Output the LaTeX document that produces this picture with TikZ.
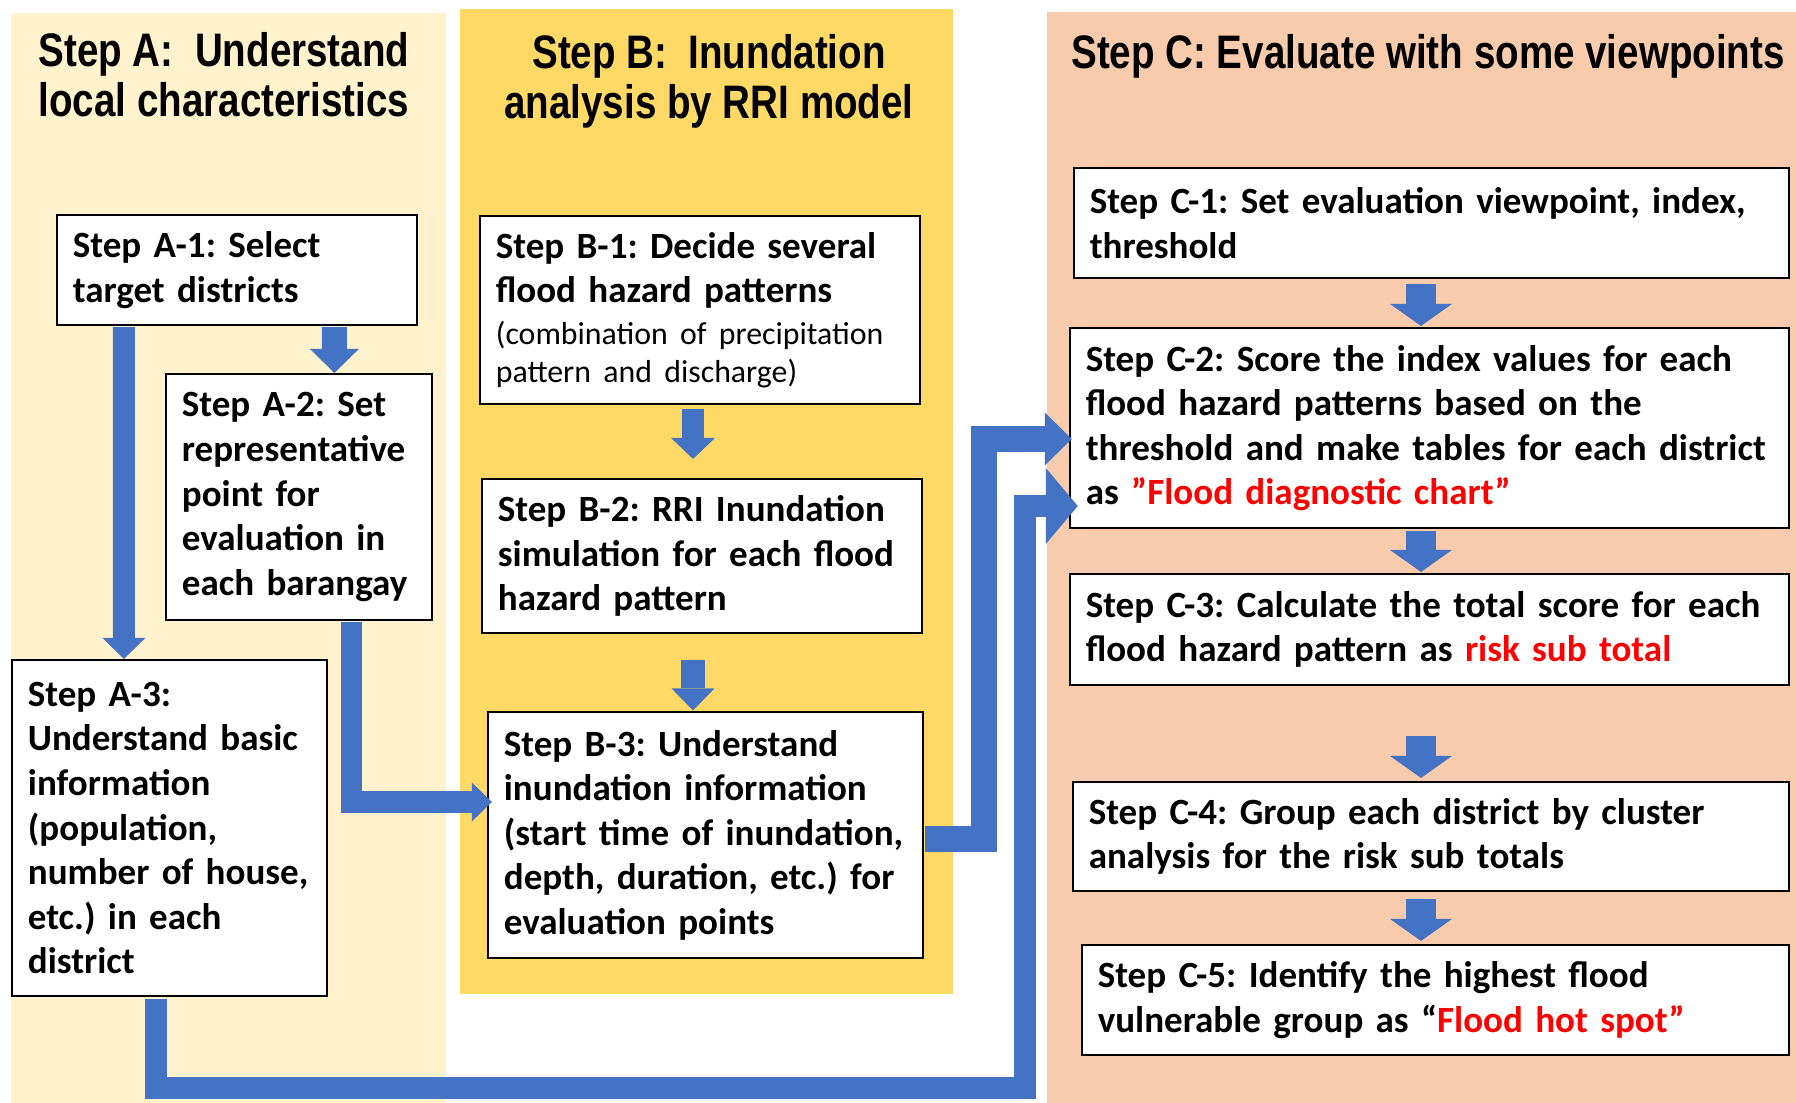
\documentclass[tikz,border=0pt]{standalone}
\usepackage{fontspec}
\setmainfont{Carlito}
\newfontfamily\headfont[FakeStretch=0.82]{Liberation Sans}
\usetikzlibrary{arrows.meta,calc}

\definecolor{paneA}{HTML}{FFF2CC}
\definecolor{paneB}{HTML}{FFD966}
\definecolor{paneC}{HTML}{F8CBAD}
\definecolor{arrblue}{HTML}{4472C4}
\definecolor{hotred}{HTML}{FF0000}
\newcommand{\hot}[1]{\textcolor{hotred}{#1}}
\protected\def\boxspace{\spaceskip=0.18em plus 0.05em\relax}
\frenchspacing

\begin{document}
\begin{tikzpicture}[x=0.01cm, y=-0.01cm,
    heading/.style={anchor=north, align=center, inner sep=0pt,
        font=\headfont\bfseries\fontsize{13.37}{14.23}\selectfont},
    stepbox/.style 2 args={draw=black, line width=0.02cm, fill=white,
        align=left, inner xsep=0.16cm, inner ysep=0pt,
        text width=#1, minimum height=#2,
        font=\bfseries\fontsize{10.53}{12.66}\selectfont\boxspace},
    blk/.style n args={3}{draw=arrblue, line width=#1, line join=miter,
        -{Triangle[width=#2, length=#3, line width=0pt]}}]

    \useasboundingbox (0,0) rectangle (1796,1103);

    % Panels
    \fill[paneA] (11,13) rectangle (446,1103);
    \fill[paneB] (460,9) rectangle (953,994);
    \fill[paneC] (1047,12) rectangle (1796,1103);

    % Headings
    \node[heading] (tita) at (224,32) {Step A:~~Understand\\local characteristics};
    \node[heading] (titb) at (709,34) {Step B:~~Inundation\\analysis by RRI model};
    \node[heading] (titc) at (1428,34) {Step C: Evaluate with some viewpoints};

    % Step A boxes
    \node[stepbox={3.28cm}{1.10cm}] (a1) at (237,270)
        {Step A-1: Select\\target districts};
    \node[stepbox={2.34cm}{2.46cm}] (a2) at (299,497)
        {Step A-2: Set\\representative\\point for\\evaluation in\\each barangay};
    \node[stepbox={2.83cm}{3.36cm}] (a3) at (169.5,828)
        {Step A-3:\\Understand basic\\information\\(population,\\number of house,\\etc.) in each\\district};

    % Step B boxes
    \node[stepbox={4.08cm}{1.88cm}] (b1) at (700,310)
        {Step B-1: Decide several\\flood hazard patterns\par\vspace{1pt}
         \mdseries\fontsize{9.05}{10.8}\selectfont
         (combination of precipitation\\pattern and discharge)\par};
    \node[stepbox={4.08cm}{1.54cm}] (b2) at (702,556)
        {Step B-2: RRI Inundation\\simulation for each flood\\hazard pattern};
    \node[stepbox={4.03cm}{2.45cm}] (b3) at (705.5,835)
        {Step B-3: Understand\\inundation information\\(start time of inundation,\\depth, duration, etc.) for\\evaluation points};

    % Step C boxes
    \node[stepbox={6.83cm}{1.10cm}] (c1) at (1431.5,223)
        {Step C-1: Set evaluation viewpoint, index,\\threshold};
    \node[stepbox={6.87cm}{2.00cm}] (c2) at (1429.5,428)
        {Step C-2: Score the index values for each\\flood hazard patterns based on the\\threshold and make tables for each district\\as \hot{”Flood diagnostic chart”}};
    \node[stepbox={6.87cm}{1.11cm}] (c3) at (1429.5,629.5)
        {Step C-3: Calculate the total score for each\\flood hazard pattern as \hot{risk sub total}};
    \node[stepbox={6.84cm}{1.09cm}] (c4) at (1431,836.5)
        {Step C-4: Group each district by cluster\\analysis for the risk sub totals};
    \node[stepbox={6.75cm}{1.10cm}] (c5) at (1435.5,1000)
        {Step C-5: Identify the highest flood\\vulnerable group as “\hot{Flood hot spot”}};

    % Arrows inside A
    \draw[blk={0.25cm}{0.49cm}{0.24cm}] ($(a1.south west)+(278.5,1)$) -- ($(a2.north west)+(169.5,0)$);
    \draw[blk={0.22cm}{0.43cm}{0.21cm}] ($(a1.south west)+(68,1)$) -- ($(a3.north west)+(113,0)$);
    \draw[blk={0.21cm}{0.39cm}{0.20cm}] ($(a2.south west)+(187,1)$) |- ($(b3.west)+(5,-33)$);

    % Arrows inside B
    \draw[blk={0.22cm}{0.44cm}{0.21cm}] ($(b1.south)+(-7,4)$) -- ($(b2.north)+(-9,-19)$);
    \draw[blk={0.24cm}{0.43cm}{0.22cm}] ($(b2.south)+(-9,26)$) -- ($(b3.north)+(-12.5,-1)$);

    % Arrows inside C
    \draw[blk={0.30cm}{0.62cm}{0.22cm}] ($(c1.south)+(-10.5,5)$) -- ($(c2.north)+(-8.5,-1)$);
    \draw[blk={0.30cm}{0.62cm}{0.22cm}] ($(c2.south)+(-8.5,2)$) -- ($(c3.north)+(-8.5,-1)$);
    \draw[blk={0.30cm}{0.62cm}{0.22cm}] ($(c3.south)+(-8.5,50)$) -- ($(c4.north)+(-10,-3)$);
    \draw[blk={0.30cm}{0.62cm}{0.22cm}] ($(c4.south)+(-10,7)$) -- ($(c5.north)+(-14.5,-3)$);

    % Long arrows into C-2
    \coordinate (bendB) at (984,439);
    \coordinate (bendA) at (1025,1088);
    \draw[blk={0.26cm}{0.53cm}{0.27cm}] ($(b3.east)+(1,4)$) -| (bendB) -- ($(c2.west)+(3,11)$);
    \draw[blk={0.22cm}{0.76cm}{0.32cm}] ($(a3.south west)+(145.5,2)$) |- (bendA) |- ($(c2.west)+(9,78)$);
\end{tikzpicture}
\end{document}
